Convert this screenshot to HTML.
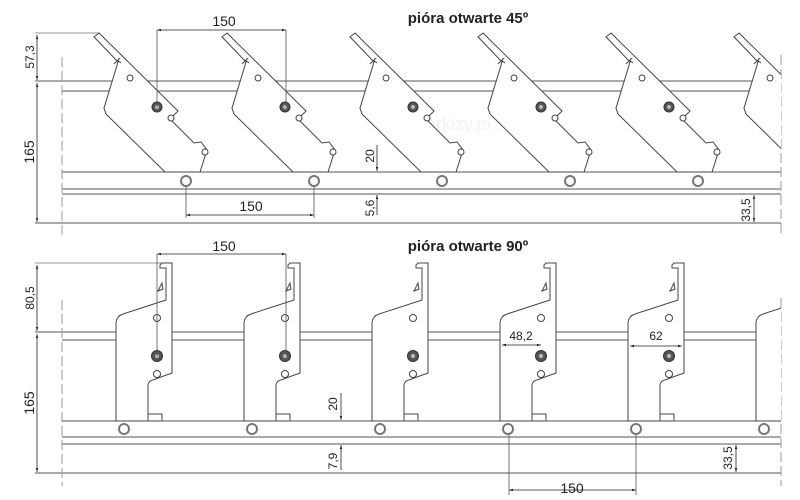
<!DOCTYPE html>
<html><head><meta charset="utf-8"><style>
html,body{margin:0;padding:0;background:#fff;}
svg{display:block;font-family:"Liberation Sans",sans-serif;}
</style></head><body>
<svg width="800" height="500" viewBox="0 0 800 500" xmlns="http://www.w3.org/2000/svg">
<defs>
<marker id="a" viewBox="0 0 10 10" refX="10" refY="5" markerWidth="7" markerHeight="5" orient="auto-start-reverse"><path d="M0,2 L10,5 L0,8z" fill="#222"/></marker>
<clipPath id="c"><rect x="0" y="0" width="781" height="500"/></clipPath>
<g id="b45">
<path d="M94,37 L99,33 L178,111 L170,119 L194,143 L201,142 L207,150 L200,172 L165,172 L106,114 L104,108 L118,62 L97,40 Z" fill="#fff" stroke="#444" stroke-width="1"/>
<path d="M120,58 L114,64 M117,60 L121,63" stroke="#444" fill="none"/>
<circle cx="157" cy="107" r="5" fill="#555" stroke="#333"/><circle cx="157" cy="107" r="2" fill="#bbb"/>
<circle cx="130" cy="78" r="3" fill="#fff" stroke="#444"/>
<circle cx="171" cy="118" r="3" fill="#fff" stroke="#444"/>
<circle cx="205" cy="152" r="3" fill="#fff" stroke="#444"/>
</g>
<g id="b90">
<path d="M160,265 L162,263 L172,263 L172,373 L150,381 L148,384 L148,421 L116,421 L116,322 Q117,316 123,314 L166,300 L166,268 L160,268 Z" fill="#fff" stroke="#444" stroke-width="1"/>
<path d="M162,283 L158,291 L163,289 Z" stroke="#444" fill="none"/>
<rect x="148" y="414" width="14" height="7" fill="none" stroke="#444"/>
<circle cx="157" cy="356" r="5.5" fill="#555" stroke="#333"/><circle cx="157" cy="356" r="2" fill="#bbb"/>
<circle cx="157" cy="318" r="3.5" fill="#fff" stroke="#444"/>
<circle cx="157" cy="374" r="3.5" fill="#fff" stroke="#444"/>
</g>
</defs>

<g stroke="#555" stroke-width="1" fill="none">
<line x1="35" y1="81" x2="781" y2="81"/><line x1="62" y1="91" x2="781" y2="91"/>
<line x1="62" y1="172" x2="781" y2="172"/><line x1="62" y1="189" x2="781" y2="189"/>
<line x1="62" y1="194" x2="781" y2="194"/><line x1="35" y1="223" x2="781" y2="223"/>
<line x1="35" y1="33" x2="100" y2="33" stroke="#999"/>
<line x1="35" y1="332" x2="781" y2="332"/><line x1="62" y1="340" x2="781" y2="340"/>
<line x1="62" y1="421" x2="781" y2="421"/><line x1="62" y1="437" x2="781" y2="437"/>
<line x1="62" y1="444" x2="781" y2="444"/><line x1="35" y1="473" x2="781" y2="473"/>
<line x1="35" y1="263" x2="165" y2="263" stroke="#999"/>
</g>
<g stroke="#999" stroke-dasharray="10,4" fill="none">
<line x1="62" y1="57" x2="62" y2="236"/><line x1="781" y1="55" x2="781" y2="236"/>
<line x1="62" y1="300" x2="62" y2="486"/><line x1="781" y1="298" x2="781" y2="486"/>
</g>

<text x="395" y="130" font-size="18" fill="#f3f3f3">e-markizy.pl</text>

<g clip-path="url(#c)">
<use href="#b45"/><use href="#b45" x="128"/><use href="#b45" x="256"/><use href="#b45" x="384"/><use href="#b45" x="512"/><use href="#b45" x="640"/>
<use href="#b90"/><use href="#b90" x="128"/><use href="#b90" x="256"/><use href="#b90" x="384"/><use href="#b90" x="512"/><use href="#b90" x="640"/>
</g>

<g fill="#fff" stroke="#777" stroke-width="2">
<circle cx="186" cy="181" r="5"/><circle cx="314" cy="181" r="5"/><circle cx="442" cy="181" r="5"/><circle cx="570" cy="181" r="5"/><circle cx="698" cy="181" r="5"/>
<circle cx="124" cy="429" r="5"/><circle cx="252" cy="429" r="5"/><circle cx="380" cy="429" r="5"/><circle cx="508" cy="429" r="5"/><circle cx="636" cy="429" r="5"/><circle cx="764" cy="429" r="5"/>
</g>

<g stroke="#222" stroke-width="0.8" fill="none">
<line x1="37" y1="35" x2="37" y2="80" marker-start="url(#a)" marker-end="url(#a)"/>
<line x1="37" y1="83" x2="37" y2="222" marker-start="url(#a)" marker-end="url(#a)"/>
<line x1="157" y1="30" x2="286" y2="30" marker-start="url(#a)" marker-end="url(#a)"/>
<line x1="157" y1="30" x2="157" y2="107" stroke="#555"/><line x1="286" y1="30" x2="286" y2="107" stroke="#555"/>
<line x1="186" y1="215" x2="314" y2="215" marker-start="url(#a)" marker-end="url(#a)"/>
<line x1="186" y1="186" x2="186" y2="218" stroke="#555"/><line x1="314" y1="186" x2="314" y2="218" stroke="#555"/>
<line x1="377" y1="145" x2="377" y2="171" marker-end="url(#a)"/>
<line x1="377" y1="215" x2="377" y2="195" marker-end="url(#a)"/>
<line x1="754" y1="195" x2="754" y2="222" marker-start="url(#a)" marker-end="url(#a)"/>

<line x1="37" y1="265" x2="37" y2="331" marker-start="url(#a)" marker-end="url(#a)"/>
<line x1="37" y1="334" x2="37" y2="472" marker-start="url(#a)" marker-end="url(#a)"/>
<line x1="157" y1="254" x2="286" y2="254" marker-start="url(#a)" marker-end="url(#a)"/>
<line x1="157" y1="254" x2="157" y2="356" stroke="#555"/><line x1="286" y1="254" x2="286" y2="356" stroke="#555"/>
<line x1="341" y1="393" x2="341" y2="420" marker-end="url(#a)"/>
<line x1="341" y1="470" x2="341" y2="445" marker-end="url(#a)"/>
<line x1="736" y1="445" x2="736" y2="472" marker-start="url(#a)" marker-end="url(#a)"/>
<line x1="502" y1="345" x2="541" y2="345" marker-start="url(#a)" marker-end="url(#a)"/>
<line x1="630" y1="346" x2="682" y2="346" marker-start="url(#a)" marker-end="url(#a)"/>
<line x1="509" y1="490" x2="636" y2="490" marker-start="url(#a)" marker-end="url(#a)"/>
<line x1="509" y1="434" x2="509" y2="495" stroke="#555"/><line x1="636" y1="434" x2="636" y2="495" stroke="#555"/>
</g>

<g fill="#222" font-size="14">
<text x="224" y="26" text-anchor="middle">150</text>
<text x="251" y="211" text-anchor="middle">150</text>
<text x="224" y="251" text-anchor="middle">150</text>
<text x="572" y="493" text-anchor="middle">150</text>
<text transform="translate(34,57) rotate(-90)" text-anchor="middle" font-size="12">57,3</text>
<text transform="translate(34,152) rotate(-90)" text-anchor="middle">165</text>
<text transform="translate(34,298) rotate(-90)" text-anchor="middle" font-size="12">80,5</text>
<text transform="translate(34,403) rotate(-90)" text-anchor="middle">165</text>
<text transform="translate(374,156) rotate(-90)" text-anchor="middle" font-size="12">20</text>
<text transform="translate(374,208) rotate(-90)" text-anchor="middle" font-size="12">5,6</text>
<text transform="translate(750,210) rotate(-90)" text-anchor="middle" font-size="12">33,5</text>
<text transform="translate(337,404) rotate(-90)" text-anchor="middle" font-size="12">20</text>
<text transform="translate(337,461) rotate(-90)" text-anchor="middle" font-size="12">7,9</text>
<text transform="translate(732,458) rotate(-90)" text-anchor="middle" font-size="12">33,5</text>
<text x="521" y="340" text-anchor="middle" font-size="12">48,2</text>
<text x="656" y="340" text-anchor="middle" font-size="12">62</text>
</g>
<g fill="#222" font-size="15" font-weight="bold">
<text x="468" y="23" text-anchor="middle">pióra otwarte 45º</text>
<text x="468" y="251" text-anchor="middle">pióra otwarte 90º</text>
</g>
</svg>
</body></html>
